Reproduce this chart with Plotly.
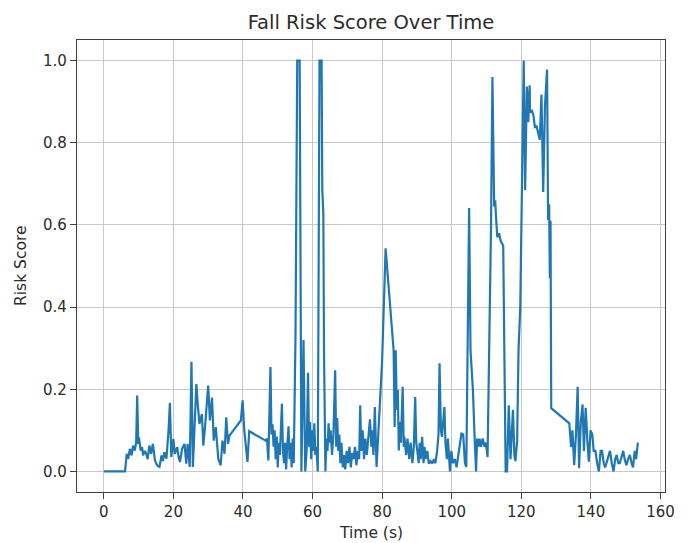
import plotly.graph_objects as go

# Time (s) and risk score values
time_s = [
    0, 6.1, 6.6, 7.0, 7.5, 8.0, 8.4, 8.9, 9.3, 9.6, 9.9, 10.1, 10.6, 11.0, 11.3, 11.8, 12.2, 12.6,
    13.1, 13.6, 14.1, 14.7, 15.3, 16.0, 16.6, 17.0, 17.4, 18.0, 18.6, 19.0, 19.4, 20.0, 20.4, 21.1,
    21.5, 21.9, 22.5, 23.2, 23.7, 24.1, 24.7, 25.2, 25.6, 26.1, 26.6, 27.0, 27.5, 28.2, 28.6, 29.1,
    29.6, 30.0, 30.5, 31.1, 31.6, 32.2, 32.9, 33.6, 34.1, 34.7, 35.2, 35.7, 36.1, 39.4, 39.9, 40.4,
    41.3, 41.8, 46.5,
    46.9, 47.3, 47.9, 48.2, 48.5, 48.8, 49.1, 49.4, 49.7, 50.0, 50.3, 50.6, 50.9, 51.2, 51.5, 51.8,
    52.1, 52.4, 52.7, 53.1, 53.4, 53.7, 54.0, 54.3, 54.6, 55.1, 55.6, 56.3,
    56.8, 57.4, 57.9, 58.3, 58.7, 59.0, 59.3, 59.6, 59.9, 60.2, 60.5, 60.8, 61.1, 61.5, 62.0, 62.6,
    62.8, 63.1, 63.3, 63.7,
    64.0, 64.3, 64.6, 64.9, 65.2, 65.6, 66.0, 66.5, 66.8, 67.1, 67.4, 67.7, 68.0, 68.3, 68.7, 69.0,
    69.4, 69.8, 70.2, 70.6, 71.0, 71.4, 71.8, 72.2, 72.6, 73.0, 73.4, 73.7, 74.0, 74.4, 74.8, 75.2,
    75.6, 76.0, 76.5, 76.9, 77.2, 77.5, 77.9, 78.4, 78.8, 79.3, 80.0,
    81.0, 82.2, 83.3, 83.6, 83.9, 84.2, 84.5, 84.8, 85.1, 85.4, 85.9, 86.2, 86.4, 86.9, 87.3, 87.8,
    88.2, 88.7, 89.1, 89.5, 89.8, 90.1, 90.5, 90.8, 91.1, 91.5, 91.9, 92.2, 92.5, 93.0, 93.4, 93.9,
    94.4, 94.9, 95.3, 95.8, 96.2, 96.5, 96.9, 97.2, 97.6, 97.9, 98.2, 98.6, 98.9, 99.2, 99.5, 99.9,
    100.3, 100.9, 101.4, 101.9, 102.3, 102.8, 103.3, 103.8, 104.2, 105.0, 105.4, 105.8, 106.1, 106.5,
    107.0, 107.3, 107.6, 108.0, 108.4, 108.9, 109.4, 109.8, 110.3,
    111.3, 111.7, 112.2, 112.5, 112.7, 113.1, 113.6, 114.1, 114.8, 115.5, 115.9, 116.4, 116.9, 117.3,
    117.6, 118.0, 118.3, 118.8, 119.2, 119.7, 120.2, 120.7, 121.1, 121.6, 122.0, 122.4, 122.5, 123.0,
    123.5, 123.9, 124.4, 124.9, 125.3, 125.8, 126.3, 126.8, 127.4, 127.7, 128.0, 128.2, 128.4, 128.6,
    133.8, 134.3, 134.7, 135.2, 135.7, 136.2, 136.6, 137.1, 137.6, 138.0, 138.5, 139.0, 139.4, 139.9,
    140.4, 140.8, 141.3, 141.8, 142.3, 142.8, 143.2, 143.7, 144.1, 144.8, 145.5, 146.0, 146.5, 147.0,
    147.4, 147.9, 148.3, 148.8, 149.3, 149.7, 150.2, 150.7, 151.2, 151.7, 152.1, 152.6, 153.0, 153.5,
]

risk_score = [
    0.0, 0.0, 0.043, 0.031, 0.055, 0.039, 0.063, 0.051, 0.07, 0.185, 0.067, 0.083, 0.051, 0.06, 0.039, 0.05, 0.043, 0.03,
    0.063, 0.043, 0.067, 0.027, 0.015, 0.011, 0.039, 0.025, 0.047, 0.031, 0.098, 0.167, 0.035, 0.079, 0.043, 0.059,
    0.035, 0.023, 0.055, 0.067, 0.019, 0.067, 0.011, 0.267, 0.011, 0.116, 0.213, 0.164, 0.116, 0.14, 0.063, 0.108,
    0.156, 0.209, 0.124, 0.18, 0.075, 0.108, 0.031, 0.015, 0.075, 0.043, 0.132, 0.067, 0.087, 0.124, 0.173, 0.098,
    0.023, 0.098, 0.075,
    0.08, 0.027, 0.254, 0.09, 0.115, 0.06, 0.1, 0.03, 0.085, 0.01, 0.07, 0.04, 0.09, 0.165, 0.05, 0.02,
    0.07, 0.005, 0.06, 0.11, 0.03, 0.07, 0.01, 0.08, 0.02, 0.33, 1.0, 1.0,
    0.0, 0.32, 0.0, 0.05, 0.24, 0.06, 0.12, 0.03, 0.1, 0.05, 0.117, 0.04, 0.06, 0.0, 1.0, 1.0,
    0.685, 0.63, 0.288, 0.0,
    0.08, 0.05, 0.117, 0.07, 0.1, 0.04, 0.09, 0.246, 0.06, 0.13, 0.05, 0.09, 0.02, 0.07, 0.01, 0.04,
    0.005, 0.05, 0.02, 0.06, 0.01, 0.045, 0.03, 0.06, 0.015, 0.05, 0.03, 0.161, 0.05, 0.1, 0.03, 0.08,
    0.04, 0.09, 0.127, 0.06, 0.1, 0.04, 0.157, 0.011, 0.07, 0.14, 0.27,
    0.543, 0.417, 0.295, 0.108, 0.295, 0.15, 0.198, 0.051, 0.12, 0.07, 0.206, 0.06, 0.084, 0.04, 0.08, 0.03,
    0.07, 0.02, 0.06, 0.181, 0.07, 0.051, 0.02, 0.07, 0.03, 0.084, 0.02, 0.06, 0.03, 0.05, 0.019, 0.025,
    0.019, 0.03, 0.02, 0.05, 0.09, 0.263, 0.1, 0.084, 0.12, 0.157, 0.07, 0.03, 0.08, 0.02, 0.0, 0.05,
    0.02, 0.03, 0.01, 0.04, 0.06, 0.092, 0.09, 0.02, 0.011, 0.641, 0.295, 0.25, 0.198, 0.1,
    0.0, 0.08, 0.06, 0.08, 0.06, 0.08, 0.06, 0.07, 0.035,
    0.6, 0.96, 0.645, 0.66, 0.624, 0.57, 0.58, 0.56, 0.55, 0.0, 0.0, 0.161, 0.03, 0.1,
    0.15, 0.04, 0.025, 0.073, 0.295, 0.4, 0.685, 1.0, 0.685, 0.937, 0.85, 0.94, 0.873, 0.88,
    0.866, 0.838, 0.84, 0.82, 0.807, 0.917, 0.68, 0.89, 0.978, 0.612, 0.65, 0.47, 0.61, 0.154,
    0.117, 0.06, 0.1, 0.015, 0.09, 0.206, 0.008, 0.12, 0.163, 0.05, 0.155, 0.073, 0.024, 0.1,
    0.09, 0.05, 0.05, 0.02, 0.0, 0.05, 0.05, 0.02, 0.01, 0.03, 0.05, 0.02, 0.0, 0.03,
    0.04, 0.02, 0.02, 0.035, 0.05, 0.03, 0.015, 0.03, 0.04, 0.02, 0.01, 0.05, 0.03, 0.07,
]

x_ticks = [0, 20, 40, 60, 80, 100, 120, 140, 160]
y_ticks = [0.0, 0.2, 0.4, 0.6, 0.8, 1.0]

FONT = "DejaVu Sans"
TXT = "#2b2b2b"

fig = go.Figure()
fig.add_trace(go.Scatter(
    x=time_s, y=risk_score, mode="lines",
    line=dict(color="#1f77b4", width=2.2),
    showlegend=False,
))

axis_common = dict(
    showgrid=True, gridcolor="#c8c8c8", gridwidth=1.1,
    zeroline=False,
    showline=True, linecolor="#404040", linewidth=1.2, mirror=True,
    ticks="outside", ticklen=6, tickwidth=1.2, tickcolor="#404040",
    tickfont=dict(family=FONT, size=15, color=TXT),
)

fig.update_layout(
    width=687, height=543,
    margin=dict(l=77, r=12, t=40, b=51),
    paper_bgcolor="white", plot_bgcolor="white",
    title=dict(text="Fall Risk Score Over Time", x=0.5, xref="paper",
               y=1 - 22 / 543, yref="container", xanchor="center", yanchor="middle",
               font=dict(family=FONT, size=19.5, color=TXT)),
    xaxis=dict(range=[-7.7, 161.3], tickvals=x_ticks, **axis_common),
    yaxis=dict(range=[-0.05, 1.05], tickvals=y_ticks, tickformat=".1f", **axis_common),
    annotations=[
        dict(text="Time (s)", xref="paper", yref="paper", x=0.5, y=0,
             xanchor="center", yanchor="middle", yshift=-41, showarrow=False,
             font=dict(family=FONT, size=15.5, color=TXT)),
        dict(text="Risk Score", xref="paper", yref="paper", x=0, y=0.5,
             xanchor="center", yanchor="middle", xshift=-56, textangle=-90, showarrow=False,
             font=dict(family=FONT, size=15.5, color=TXT)),
    ],
)

fig.write_html("out.html")
